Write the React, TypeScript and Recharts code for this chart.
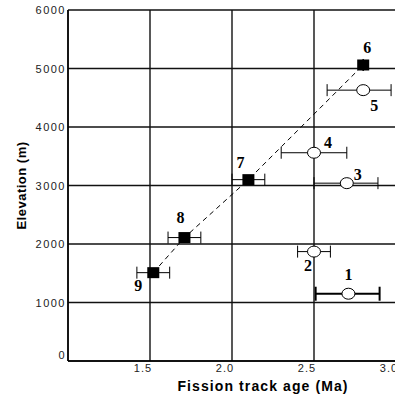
import React from 'react';
import { ScatterChart, Scatter, XAxis, YAxis, CartesianGrid, ErrorBar, Label } from 'recharts';

// filled squares: samples 9, 8, 7, 6 (joined by dashed line)
const squareIds = ['9', '8', '7', '6'];
const squareAges = [1.52, 1.71, 2.1, 2.8];
const squareElev = [1510, 2110, 3100, 5060];
const squareErrLow = [0.1, 0.1, 0.1, 0];
const squareErrHigh = [0.1, 0.1, 0.1, 0];

// open circles: samples 2..5
const circleIds = ['2', '3', '4', '5'];
const circleAges = [2.5, 2.7, 2.5, 2.8];
const circleElev = [1870, 3040, 3560, 4630];
const circleErrLow = [0.1, 0.2, 0.2, 0.22];
const circleErrHigh = [0.1, 0.19, 0.2, 0.17];

// sample 1 (heavier error bar)
const sample1Ids = ['1'];
const sample1Ages = [2.71];
const sample1Elev = [1150];
const sample1ErrLow = [0.2];
const sample1ErrHigh = [0.19];

const xTicks = [1.5, 2.0, 2.5, 3.0];
const yTicks = [0, 1000, 2000, 3000, 4000, 5000, 6000];

// label offsets from the marker centre, in px
const labelOffsets: Record<string, [number, number]> = {
  '1': [0, -19],
  '2': [-6, 14],
  '3': [11, -9],
  '4': [14, -10],
  '5': [11, 15],
  '6': [4, -17],
  '7': [-8, -17],
  '8': [-4, -20],
  '9': [-15, 13],
};

const build = (ids: string[], ages: number[], elev: number[], lo: number[], hi: number[]) =>
  ids.map((id, i) => ({ id, age: ages[i], elev: elev[i], err: [lo[i], hi[i]] }));

const squares = build(squareIds, squareAges, squareElev, squareErrLow, squareErrHigh);
const circles = build(circleIds, circleAges, circleElev, circleErrLow, circleErrHigh);
const sample1 = build(sample1Ids, sample1Ages, sample1Elev, sample1ErrLow, sample1ErrHigh);

const tickFont = { fontFamily: 'Liberation Sans, Arial, sans-serif', fontSize: 11, fill: '#222' };

const PointLabel = ({ cx, cy, id }: any) => {
  const [dx, dy] = labelOffsets[id] || [0, 0];
  return (
    <text x={cx + dx} y={cy + dy} textAnchor="middle" dominantBaseline="central"
      fontFamily="Liberation Serif, Times New Roman, serif" fontWeight="bold" fontSize={16} fill="#000">
      {id}
    </text>
  );
};

const SquareShape = (props: any) => {
  const { cx, cy, payload } = props;
  return (
    <g>
      <rect x={cx - 6} y={cy - 5.5} width={12} height={11} fill="#000" />
      <PointLabel cx={cx} cy={cy} id={payload.id} />
    </g>
  );
};

const CircleShape = (props: any) => {
  const { cx, cy, payload } = props;
  return (
    <g>
      <ellipse cx={cx} cy={cy} rx={6.5} ry={5.5} fill="#fff" stroke="#000" strokeWidth={1} />
      <PointLabel cx={cx} cy={cy} id={payload.id} />
    </g>
  );
};

const XTick = ({ x, y, payload }: any) => (
  <text x={x - 7} y={y + 7} textAnchor="middle" dominantBaseline="central" letterSpacing={1} {...tickFont}>
    {payload.value.toFixed(1)}
  </text>
);

const YTick = ({ x, y, payload }: any) => (
  <text x={x + 1} y={payload.value === 0 ? y - 6 : y} textAnchor="end" dominantBaseline="central" letterSpacing={1.5} {...tickFont}>
    {payload.value}
  </text>
);

const YTitle = ({ viewBox }: any) => {
  const x = viewBox.x + 21.5;
  const y = viewBox.y + viewBox.height / 2;
  return (
    <text x={x} y={y} transform={`rotate(-90 ${x} ${y})`} textAnchor="middle" dominantBaseline="central"
      fontFamily="Liberation Sans, Arial, sans-serif" fontWeight="bold" fontSize={13} letterSpacing={0.5} fill="#000">
      Elevation (m)
    </text>
  );
};

const XTitle = ({ viewBox }: any) => (
  <text x={viewBox.x + 195} y={viewBox.y + 25} textAnchor="middle" dominantBaseline="central"
    fontFamily="Liberation Sans, Arial, sans-serif" fontWeight="bold" fontSize={14} letterSpacing={1.1} fill="#000">
    Fission track age (Ma)
  </text>
);

const App: React.FC = () => {
  return (
    <div style={{ position: 'absolute', left: 0, top: 0, width: 395, height: 399, overflow: 'hidden', background: '#fff' }}>
      <ScatterChart width={400} height={399} margin={{ top: 10, right: 4, bottom: 0, left: 0 }}>
        <CartesianGrid stroke="#111" strokeWidth={1.4} />
        <XAxis type="number" dataKey="age" domain={[1, 3]} ticks={xTicks} allowDataOverflow
          height={38} tickSize={0} tickMargin={0} tick={<XTick />}
          axisLine={{ stroke: '#000', strokeWidth: 1.5 }} tickLine={false}>
          <Label content={<XTitle />} />
        </XAxis>
        <YAxis type="number" dataKey="elev" domain={[0, 6000]} ticks={yTicks} allowDataOverflow
          width={68} tickSize={0} tickMargin={3} tick={<YTick />}
          axisLine={{ stroke: '#000', strokeWidth: 1.5 }} tickLine={false}>
          <Label content={<YTitle />} />
        </YAxis>
        <Scatter data={squares} isAnimationActive={false} shape={<SquareShape />}
          line={{ stroke: '#000', strokeWidth: 1, strokeDasharray: '5 4' }}>
          <ErrorBar dataKey="err" direction="x" width={6} stroke="#000" strokeWidth={1} />
        </Scatter>
        <Scatter data={circles} isAnimationActive={false} shape={<CircleShape />}>
          <ErrorBar dataKey="err" direction="x" width={6} stroke="#000" strokeWidth={1} />
        </Scatter>
        <Scatter data={sample1} isAnimationActive={false} shape={<CircleShape />}>
          <ErrorBar dataKey="err" direction="x" width={7} stroke="#000" strokeWidth={2} />
        </Scatter>
      </ScatterChart>
    </div>
  );
};

export default App;
